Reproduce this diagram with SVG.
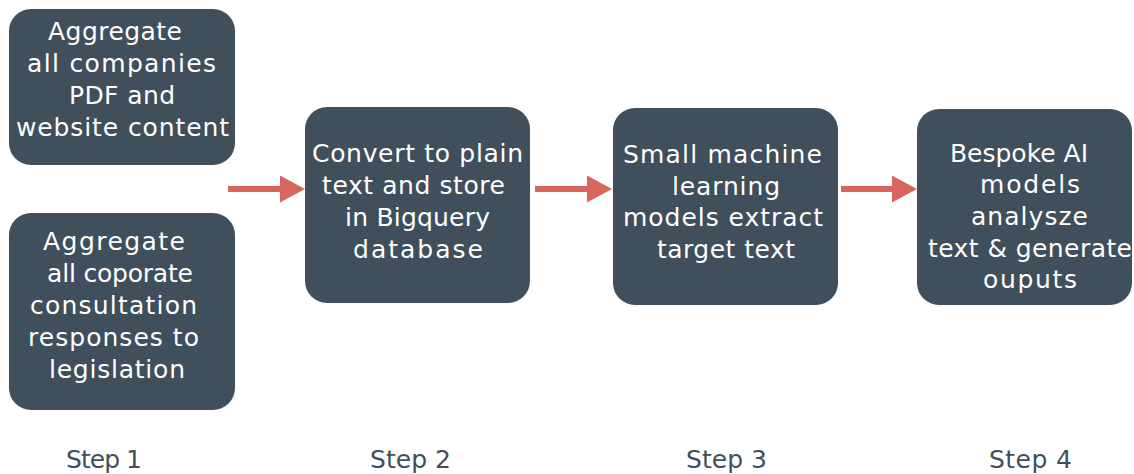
<svg xmlns="http://www.w3.org/2000/svg" width="1134" height="474" viewBox="0 0 1134 474">
<style>
.box{fill:#3f4f5b;}
.t{font-family:"DejaVu Sans","Liberation Sans",sans-serif;font-size:25px;fill:#ffffff;text-anchor:middle;}
.step{font-family:"DejaVu Sans","Liberation Sans",sans-serif;font-size:25px;fill:#3f4f5b;text-anchor:middle;}
.arrow{stroke:#d9665c;stroke-width:6;fill:none;}
</style>
<defs>
<marker id="ah" markerUnits="userSpaceOnUse" markerWidth="25" markerHeight="27" refX="10" refY="13.5" orient="auto">
<path d="M0,0 L25,13.5 L0,27 Z" fill="#d9665c"/>
</marker>
</defs>
<rect width="1134" height="474" fill="#ffffff"/>
<g id="connectors">
<line class="arrow" x1="228" y1="189" x2="290" y2="189" marker-end="url(#ah)"/>
<line class="arrow" x1="535" y1="189" x2="597" y2="189" marker-end="url(#ah)"/>
<line class="arrow" x1="841" y1="189" x2="902" y2="189" marker-end="url(#ah)"/>
</g>
<g id="node1">
<rect class="box" x="9" y="9" width="226" height="156" rx="22"/>
<text class="t" x="115" y="40" textLength="134">Aggregate</text>
<text class="t" x="121.5" y="72" textLength="189">all companies</text>
<text class="t" x="122" y="104" textLength="106">PDF and</text>
<text class="t" x="122.5" y="136" textLength="213">website content</text>
</g>
<g id="node2">
<rect class="box" x="9" y="213" width="226" height="197" rx="22"/>
<text class="t" x="114" y="250" textLength="142">Aggregate</text>
<text class="t" x="120" y="282" textLength="146">all coporate</text>
<text class="t" x="113.5" y="314" textLength="167">consultation</text>
<text class="t" x="113.5" y="346" textLength="171">responses to</text>
<text class="t" x="117" y="378" textLength="136">legislation</text>
</g>
<g id="node3">
<rect class="box" x="305" y="107" width="225" height="196" rx="22"/>
<text class="t" x="417.5" y="162" textLength="211">Convert to plain</text>
<text class="t" x="413.5" y="194" textLength="183">text and store</text>
<text class="t" x="417.5" y="226" textLength="145">in Bigquery</text>
<text class="t" x="418" y="258" textLength="130">database</text>
</g>
<g id="node4">
<rect class="box" x="613" y="108" width="225" height="197" rx="22"/>
<text class="t" x="722.5" y="163" textLength="199">Small machine</text>
<text class="t" x="726" y="195" textLength="108">learning</text>
<text class="t" x="723" y="226" textLength="200">models extract</text>
<text class="t" x="726" y="258" textLength="138">target text</text>
</g>
<g id="node5">
<rect class="box" x="917" y="109" width="215" height="196" rx="22"/>
<text class="t" x="1019" y="162">Bespoke AI</text>
<text class="t" x="1030" y="193" textLength="100">models</text>
<text class="t" x="1029.5" y="225" textLength="117">analysze</text>
<text class="t" x="1030" y="257" textLength="204">text &amp; generate</text>
<text class="t" x="1030" y="288" textLength="94">ouputs</text>
</g>
<g id="steps">
<text class="step" x="104" y="468" textLength="76">Step 1</text>
<text class="step" x="410.5" y="468" textLength="81">Step 2</text>
<text class="step" x="726.5" y="468" textLength="81">Step 3</text>
<text class="step" x="1030.5" y="468" textLength="83">Step 4</text>
</g>
</svg>
